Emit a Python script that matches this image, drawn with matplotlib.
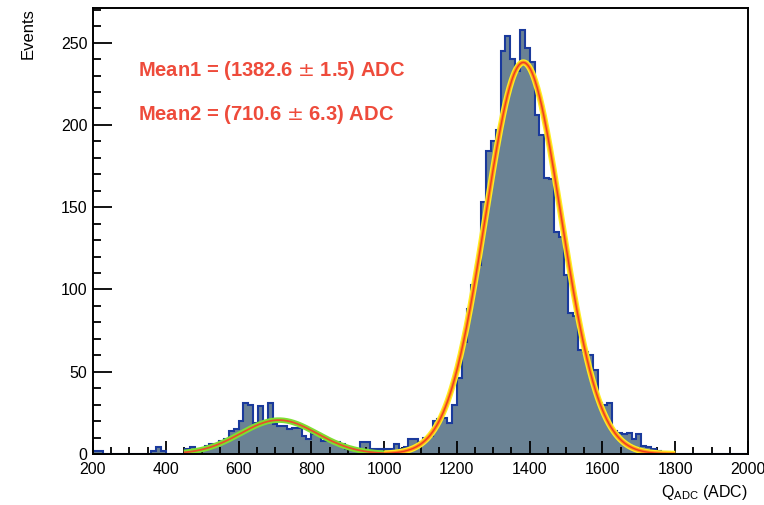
import matplotlib
matplotlib.use("Agg")
import matplotlib.pyplot as plt
import numpy as np
from matplotlib.ticker import MultipleLocator

plt.rcParams['font.family'] = ['Liberation Sans', 'DejaVu Sans']

# histogram: 150 bins over 0-2000, only 200-2000 visible
bin_lo = 200
bin_hi = 2000
n_bins = 135
counts = [2, 2, 0, 0, 0, 0, 0, 0, 0, 0, 0, 0, 2, 4, 2, 0, 0, 0, 0, 3,
          4, 2, 3, 5, 6, 6, 8, 9, 14, 15, 20, 31, 30, 19, 29, 19, 31, 18, 17, 17,
          15, 16, 16, 11, 9, 12, 12, 8, 8, 7, 7, 6, 3, 3, 3, 7, 7, 3, 3, 3,
          3, 3, 6, 3, 4, 9, 9, 7, 10, 11, 20, 21, 22, 19, 30, 46, 68, 88, 103, 115,
          153, 184, 190, 197, 245, 254, 240, 233, 258, 247, 238, 206, 194, 168, 167, 135, 132, 109, 86, 84,
          63, 62, 60, 51, 31, 30, 31, 14, 13, 12, 13, 9, 12, 5, 4, 3, 2, 1, 1, 0,
          0, 0, 0, 0, 0, 0, 0, 0, 0, 0, 0, 0, 0, 0, 0]

# gaussian fit parameters (amplitude, mean, sigma, range)
fit1 = (238.0, 1382.6, 104.0, 1000, 1800)
fit2 = (20.6, 710.6, 105.0, 450, 1000)
mean1_text = "Mean1 = (1382.6 $\\pm$ 1.5) ADC"
mean2_text = "Mean2 = (710.6 $\\pm$ 6.3) ADC"

edges = np.linspace(bin_lo, bin_hi, n_bins + 1)


def gaus(x, a, m, s):
    return a * np.exp(-0.5 * ((x - m) / s) ** 2)


fig = plt.figure(figsize=(7.64, 5.05), dpi=100)
ax = fig.add_axes([93 / 764, 1 - 454 / 505, (748 - 93) / 764, (454 - 8.3) / 505])

ax.stairs(counts, edges, fill=True, color='#6a8294', zorder=1)
ax.stairs(counts, edges, color='#1a3a9c', linewidth=1.5, zorder=2)

# big peak: yellow glow + orange + red core
a, m, s, lo, hi = fit1
xx = np.linspace(lo, hi, 400)
ax.plot(xx, gaus(xx, a, m, s), color='#ffee22', lw=4.5, zorder=3, solid_capstyle='butt')
ax.plot(xx, gaus(xx, a, m, s), color='#ff9a1a', lw=2.6, zorder=4, solid_capstyle='butt')
ax.plot(xx, gaus(xx, a, m, s), color='#ee3a22', lw=1.0, zorder=5, solid_capstyle='butt')

# small peak: green glow + red core
a, m, s, lo, hi = fit2
xx = np.linspace(lo, hi, 300)
ax.plot(xx, gaus(xx, a, m, s), color='#7ee030', lw=4.0, zorder=3, solid_capstyle='butt')
ax.plot(xx, gaus(xx, a, m, s), color='#e8502a', lw=1.3, zorder=5, solid_capstyle='butt')

ax.set_xlim(bin_lo, bin_hi)
ax.set_ylim(0, 1.05 * max(counts))

ax.xaxis.set_major_locator(MultipleLocator(200))
ax.xaxis.set_minor_locator(MultipleLocator(50))
ax.yaxis.set_major_locator(MultipleLocator(50))
ax.yaxis.set_minor_locator(MultipleLocator(10))
ax.tick_params(axis='x', which='major', direction='in', length=9.5, width=1.3, labelsize=11.5, pad=6)
ax.tick_params(axis='x', which='minor', direction='in', length=4.8, width=1.3)
ax.tick_params(axis='y', which='major', direction='in', length=14, width=1.3, labelsize=11.5, pad=4)
ax.tick_params(axis='y', which='minor', direction='in', length=6, width=1.3)
for sp in ax.spines.values():
    sp.set_linewidth(1.4)
    sp.set_zorder(6)

fig.text(138 / 764, 1 - 70 / 505, mean1_text, color='#ee4b3b', fontsize=14.5,
         fontweight='bold', va='center', ha='left')
fig.text(138 / 764, 1 - 115 / 505, mean2_text, color='#ee4b3b', fontsize=14.5,
         fontweight='bold', va='center', ha='left')

fig.text(28 / 764, 1 - 8 / 505, "Events", rotation=90, fontsize=12, ha='center', va='top')
fig.text(748 / 764, 1 - 492 / 505, r"Q$_{\mathregular{ADC}}$ (ADC)", fontsize=11.5,
         ha='right', va='center')

fig.savefig("out.png", dpi=100)
